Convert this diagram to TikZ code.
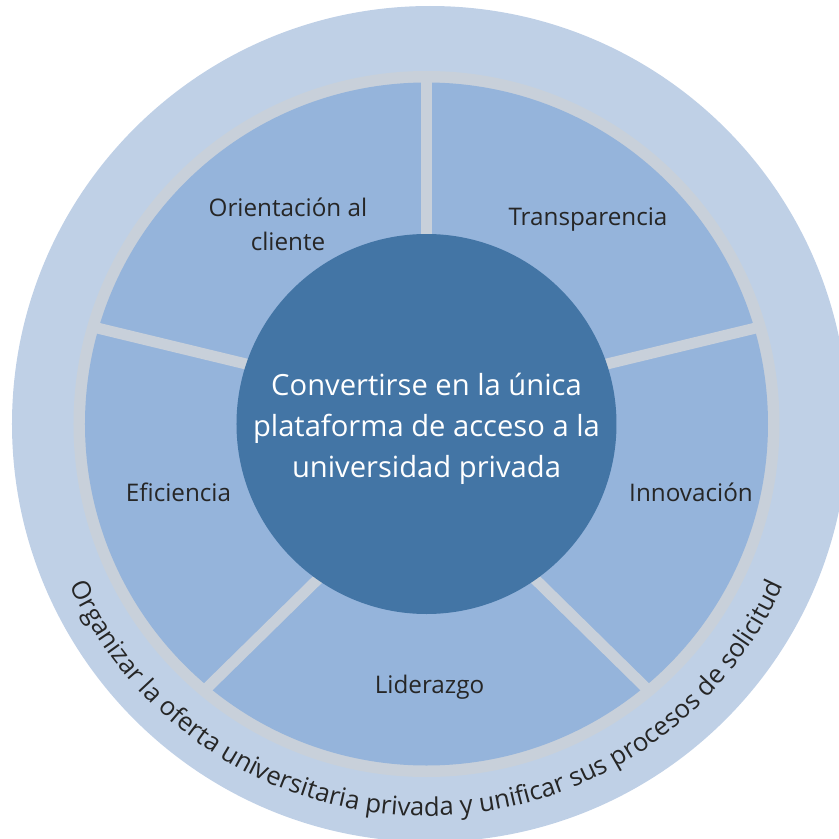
\documentclass[tikz,border=0pt]{standalone}
\usepackage{fontspec}
\setmainfont{Open Sans}
\usetikzlibrary{decorations.text}
\definecolor{outerc}{HTML}{BFD0E6}
\definecolor{segc}{HTML}{95B4DB}
\definecolor{sepc}{HTML}{C8D0DA}
\definecolor{corec}{HTML}{4375A5}
\definecolor{txtc}{HTML}{262626}
\begin{document}
\begin{tikzpicture}[x=0.02cm,y=0.02cm,
  lbl/.style={text=txtc, font=\fontsize{13.8}{19.3}\selectfont, align=center, inner sep=0pt},
  corelbl/.style={text=white, font=\fontsize{16.6}{23.4}\selectfont, align=center, inner sep=0pt},
  sepline/.style={draw=sepc, line width=6.24pt}]
\useasboundingbox (-426.5,-415) rectangle (412.5,424);
\clip (-426.5,-415) rectangle (412.5,424);
\fill[outerc] (3.5,0) circle (418);
\fill[sepc] (0,0) circle (353);
\fill[segc] (0,0) circle (341.5);
\begin{scope}
  \clip (0,0) circle (347);
  \coordinate (s1a) at (0,100);      \coordinate (s1b) at (0,400);
  \coordinate (s2a) at (95.1,39.4);  \coordinate (s2b) at (393.1,111.4);
  \coordinate (s3a) at (-95.1,39.4); \coordinate (s3b) at (-393.1,111.4);
  \coordinate (s4a) at (-57.25,-104.75); \coordinate (s4b) at (-276.25,-319.75);
  \coordinate (s5a) at (57.25,-104.75);  \coordinate (s5b) at (276.25,-319.75);
  \draw[sepline] (s1a) -- (s1b);
  \draw[sepline] (s2a) -- (s2b);
  \draw[sepline] (s3a) -- (s3b);
  \draw[sepline] (s4a) -- (s4b);
  \draw[sepline] (s5a) -- (s5b);
\end{scope}
\fill[corec] (0,0) circle (190);
\node[corelbl] (core) at (0,-5) {Convertirse en la única\\plataforma de acceso a la\\universidad privada};
\node[lbl] (orient) at (-138.5,200) {Orientación al\\cliente};
\node[lbl] (transp) at (161.5,204) {Transparencia};
\node[lbl] (efic) at (-248,-68) {Eficiencia};
\node[lbl] (innov) at (264.5,-68) {Innovación};
\node[lbl] (lider) at (3,-263) {Liderazgo};
\path[decorate, decoration={text along path, text align=center, text color=txtc,
  text={|\fontsize{14.6}{17}\selectfont|Organizar la oferta universitaria privada y unificar sus procesos de solicitud}}]
  (195:392) arc[start angle=195, end angle=345, radius=392];
\end{tikzpicture}
\end{document}
